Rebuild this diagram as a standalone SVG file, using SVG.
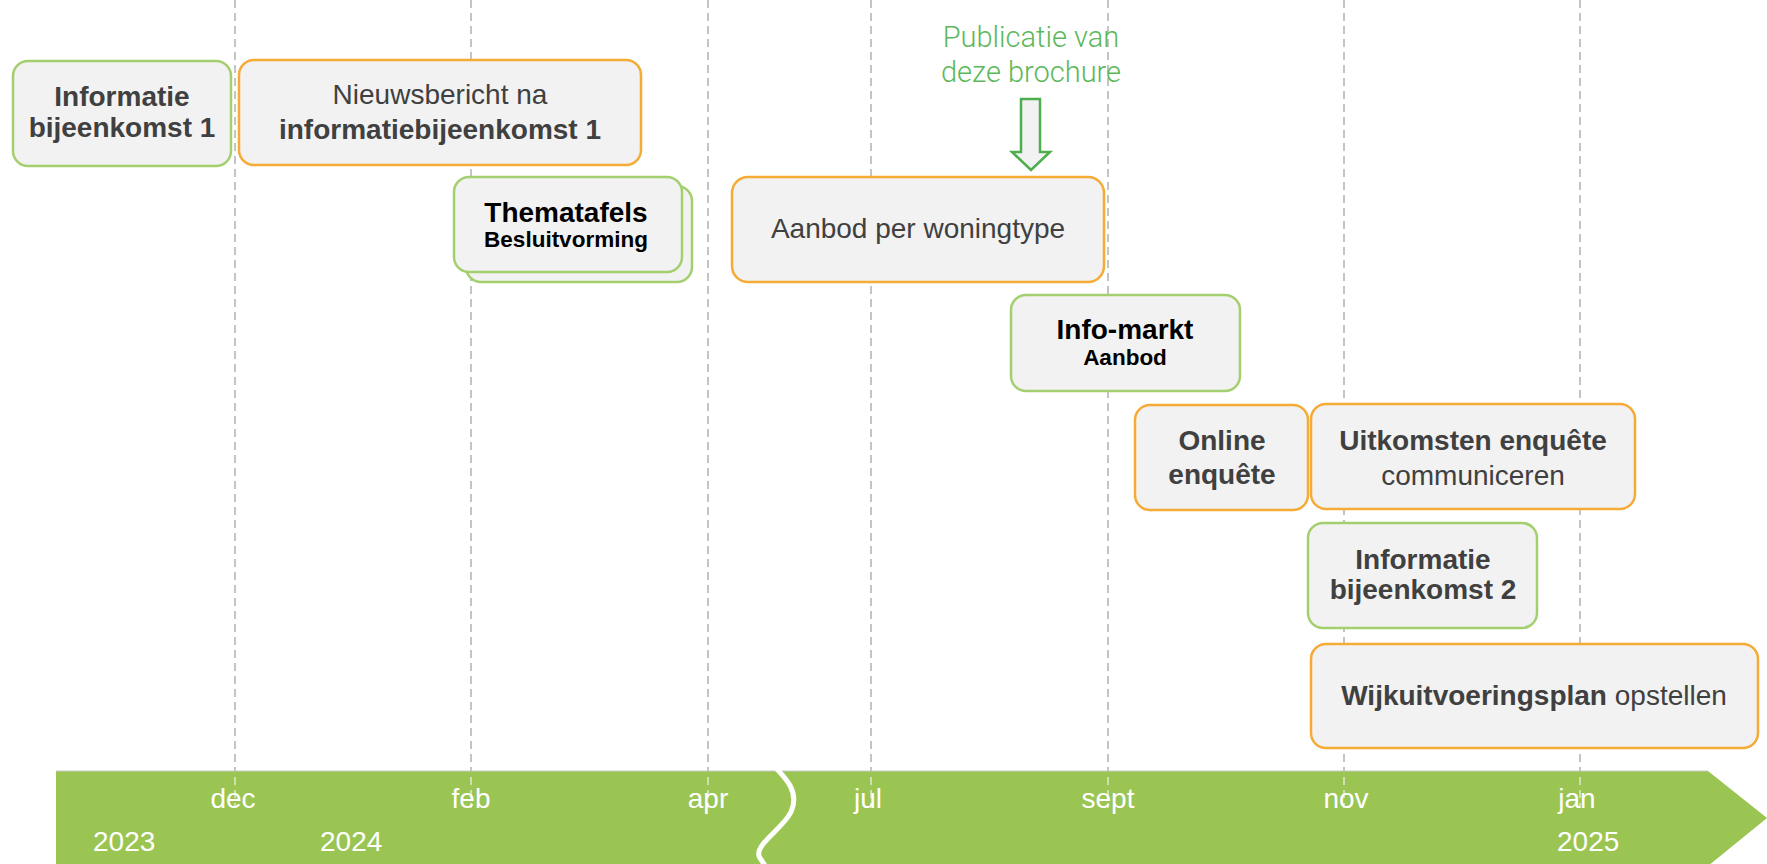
<svg xmlns="http://www.w3.org/2000/svg" width="1767" height="864" viewBox="0 0 1767 864">
<style>
.grid{stroke:#c4c4c4;stroke-width:2;stroke-dasharray:8 5;fill:none}
.gridin{stroke:#dfe8cf;stroke-width:1.5;stroke-dasharray:8 5;fill:none}
.box{fill:#f2f2f2;stroke-width:2.5}
.g{stroke:#a3cf6e}
.o{stroke:#f5ab35}
text{font-family:"Liberation Sans",Arial,sans-serif;font-size:28px;text-anchor:middle}
.t{fill:#404040}
.k{fill:#000}
.b{font-weight:bold}
.m{fill:#fff;font-size:28px}
.y{fill:#fff;font-size:28px;text-anchor:start}
.pub{fill:#5cb85a;font-family:Roboto,"Liberation Sans",sans-serif;font-weight:300;font-size:29px}
</style>
<rect width="1767" height="864" fill="#fff"/>
<g id="gridlines">
<line class="grid" x1="235" y1="0" x2="235" y2="771"/>
<line class="grid" x1="471" y1="0" x2="471" y2="771"/>
<line class="grid" x1="708" y1="0" x2="708" y2="771"/>
<line class="grid" x1="871" y1="0" x2="871" y2="771"/>
<line class="grid" x1="1108" y1="0" x2="1108" y2="771"/>
<line class="grid" x1="1344" y1="0" x2="1344" y2="771"/>
<line class="grid" x1="1580" y1="0" x2="1580" y2="771"/>
</g>
<g id="timeline">
<path d="M56,771 L1708,771 L1767,818 L1708,866 L56,866 Z" fill="#9bc553"/>
<line x1="56" y1="771" x2="1708" y2="771" stroke="#c8c8c8" stroke-width="1"/>
<line class="gridin" x1="235" y1="777" x2="235" y2="808"/>
<line class="gridin" x1="471" y1="777" x2="471" y2="808"/>
<line class="gridin" x1="708" y1="777" x2="708" y2="808"/>
<line class="gridin" x1="871" y1="777" x2="871" y2="808"/>
<line class="gridin" x1="1108" y1="777" x2="1108" y2="808"/>
<line class="gridin" x1="1344" y1="777" x2="1344" y2="808"/>
<line class="gridin" x1="1580" y1="777" x2="1580" y2="808"/>
<path d="M772,764 C786,778 800,792 791,812 C782,830 752,846 760,858 L768,870" fill="none" stroke="#fff" stroke-width="5" stroke-linecap="round"/>
<text class="m" x="233" y="808">dec</text>
<text class="m" x="471" y="808">feb</text>
<text class="m" x="708" y="808">apr</text>
<text class="m" x="868" y="808">jul</text>
<text class="m" x="1108" y="808">sept</text>
<text class="m" x="1346" y="808">nov</text>
<text class="m" x="1577" y="808">jan</text>
<text class="y" x="93" y="851">2023</text>
<text class="y" x="320" y="851">2024</text>
<text class="y" x="1557" y="851">2025</text>
</g>
<g id="connectors">
<path d="M1021,99 L1040,99 L1040,152 L1050,152 L1031,170 L1012,152 L1021,152 Z" fill="#f2f2f2" stroke="#4cae4c" stroke-width="2.5"/>
</g>
<g id="publicatie">
<text class="pub" x="1031" y="47">Publicatie van</text>
<text class="pub" x="1031" y="82">deze brochure</text>
</g>
<g id="n1">
<rect class="box g" x="13" y="61" width="218" height="105" rx="15"/>
<text class="t b" x="122" y="106">Informatie</text>
<text class="t b" x="122" y="137">bijeenkomst 1</text>
</g>
<g id="n2">
<rect class="box o" x="239" y="60" width="402" height="105" rx="15"/>
<text class="t" x="440" y="104">Nieuwsbericht na</text>
<text class="t b" x="440" y="139">informatiebijeenkomst 1</text>
</g>
<g id="n3">
<rect class="box g" x="466" y="186" width="226" height="96" rx="15"/>
<rect class="box g" x="454" y="177" width="228" height="95" rx="15"/>
<text class="k b" x="566" y="222">Thematafels</text>
<text class="k b" x="566" y="247" style="font-size:22.5px">Besluitvorming</text>
</g>
<g id="n4">
<rect class="box o" x="732" y="177" width="372" height="105" rx="16"/>
<text class="t" x="918" y="238">Aanbod per woningtype</text>
</g>
<g id="n5">
<rect class="box g" x="1011" y="295" width="229" height="96" rx="15"/>
<text class="k b" x="1125" y="339">Info-markt</text>
<text class="k b" x="1125" y="365" style="font-size:22.5px">Aanbod</text>
</g>
<g id="n6">
<rect class="box o" x="1135" y="405" width="173" height="105" rx="15"/>
<text class="t b" x="1222" y="450">Online</text>
<text class="t b" x="1222" y="484">enquête</text>
</g>
<g id="n7">
<rect class="box o" x="1311" y="404" width="324" height="105" rx="15"/>
<text class="t b" x="1473" y="450">Uitkomsten enquête</text>
<text class="t" x="1473" y="485">communiceren</text>
</g>
<g id="n8">
<rect class="box g" x="1308" y="523" width="229" height="105" rx="15"/>
<text class="t b" x="1423" y="569">Informatie</text>
<text class="t b" x="1423" y="599">bijeenkomst 2</text>
</g>
<g id="n9">
<rect class="box o" x="1311" y="644" width="447" height="104" rx="15"/>
<text class="t" x="1534" y="705"><tspan class="b">Wijkuitvoeringsplan</tspan> opstellen</text>
</g>
</svg>
